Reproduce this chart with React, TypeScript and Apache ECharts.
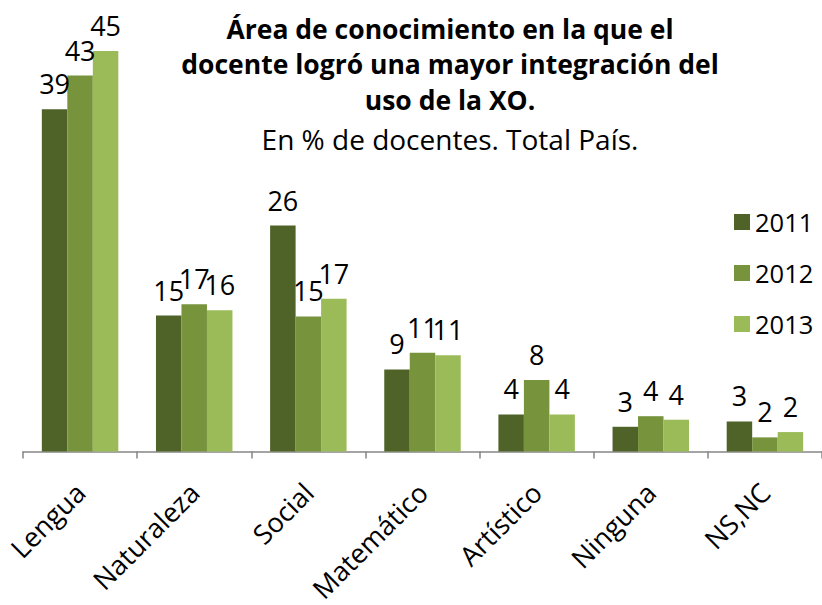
import React, { useEffect, useRef } from "react";
import * as echarts from "echarts";

const categories = ["Lengua", "Naturaleza", "Social", "Matemático", "Artístico", "Ninguna", "NS,NC"];
const seriesNames = ["2011", "2012", "2013"];
const values2011 = [38.8, 15.4, 25.6, 9.3, 4.2, 2.8, 3.4];
const values2012 = [42.6, 16.7, 15.3, 11.2, 8.1, 4.0, 1.6];
const values2013 = [45.4, 16.0, 17.3, 10.9, 4.2, 3.6, 2.2];
const colors = ["#4F6228", "#77933C", "#9BBB59"];
const titleLines = [
  "Área de conocimiento en la que el",
  "docente logró una mayor integración del",
  "uso de la XO.",
];
const subtitle = "En % de docentes. Total País.";

const FONT = "'Open Sans', sans-serif";

export default function App() {
  const ref = useRef<HTMLDivElement>(null);
  useEffect(() => {
    if (!ref.current) return;
    const chart = echarts.init(ref.current, undefined, { renderer: "svg" });
    const allValues = [values2011, values2012, values2013];
    const titleYs = [29, 64, 100];
    const graphics: any[] = titleLines.map((t, i) => ({
      type: "text",
      x: 450,
      y: titleYs[i],
      style: {
        text: t,
        font: `bold 26.5px ${FONT}`,
        fill: "#000",
        textAlign: "center",
        textVerticalAlign: "middle",
      },
    }));
    graphics.push({
      type: "text",
      x: 450,
      y: 139,
      style: {
        text: subtitle,
        font: `28px ${FONT}`,
        fill: "#000",
        textAlign: "center",
        textVerticalAlign: "middle",
      },
    });
    chart.setOption({
      animation: false,
      backgroundColor: "#fff",
      graphic: graphics,
      legend: {
        orient: "vertical",
        left: 729,
        top: 202,
        itemWidth: 16,
        itemHeight: 16,
        itemGap: 21,
        icon: "rect",
        data: seriesNames,
        textStyle: { fontFamily: FONT, fontSize: 25.5, color: "#000", lineHeight: 30 },
      },
      grid: { left: 23, right: -9, top: 10.3, bottom: 152.7, containLabel: false },
      xAxis: {
        type: "category",
        data: categories,
        axisLine: { lineStyle: { color: "#868686", width: 1.5 } },
        axisTick: { show: true, length: 7, lineStyle: { color: "#868686", width: 1.5 } },
        axisLabel: {
          rotate: 45,
          fontFamily: FONT,
          fontSize: 27,
          color: "#000",
          margin: 36,
          interval: 0,
        },
      },
      yAxis: { type: "value", min: 0, max: 50, show: false, splitLine: { show: false } },
      series: seriesNames.map((name, i) => ({
        name,
        type: "bar",
        data: allValues[i],
        barGap: "0%",
        barCategoryGap: "33%",
        itemStyle: { color: colors[i] },
        label: {
          show: true,
          position: "top",
          distance: 12,
          fontFamily: FONT,
          fontSize: 27,
          color: "#000",
          formatter: (p: any) => String(Math.round(p.value)),
        },
      })),
    });
    return () => chart.dispose();
  }, []);
  return (
    <div
      ref={ref}
      style={{ position: "absolute", left: 0, top: 0, width: 822, height: 605 }}
    />
  );
}
